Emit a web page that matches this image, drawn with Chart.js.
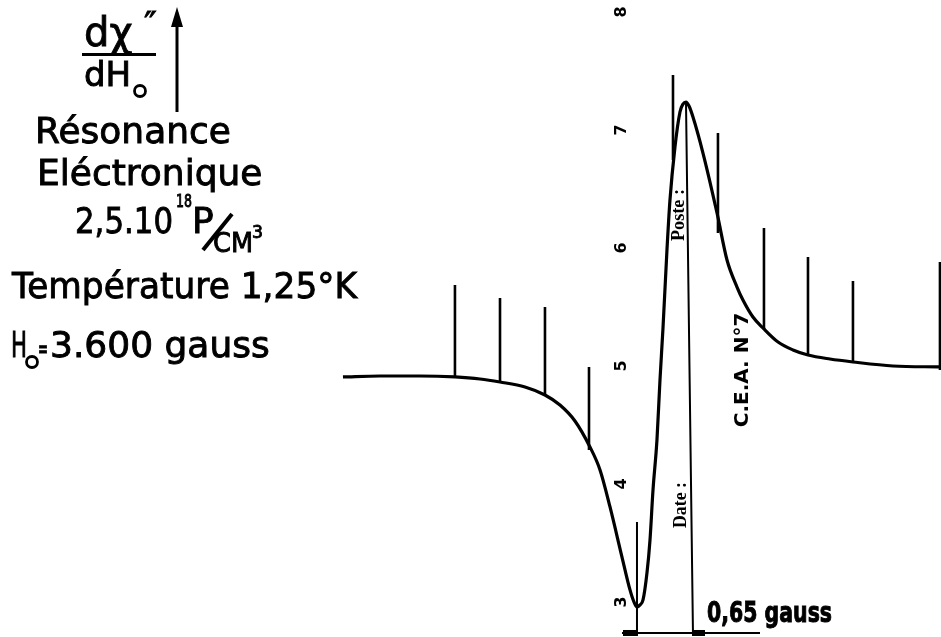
<!DOCTYPE html>
<html>
<head>
<meta charset="utf-8">
<script src="https://cdn.jsdelivr.net/npm/chart.js@4/dist/chart.umd.min.js"></script>
<style>
  html, body { margin: 0; padding: 0; background: #fff; }
  #wrap { width: 941px; height: 637px; }
</style>
</head>
<body>
<div id="wrap"><canvas id="c" width="941" height="637"></canvas></div>
<script>
// Field offset (gauss) from the minimum of the derivative trace
const fieldG = [-3.413, -2.983, -2.519, -2.113, -1.822, -1.590, -1.300, -1.068, -0.894, -0.720,
  -0.546, -0.429, -0.313, -0.174, -0.081, -0.035, 0.000, 0.035, 0.070, 0.116,
  0.151, 0.186, 0.232, 0.267, 0.302, 0.348, 0.383, 0.441, 0.499, 0.534,
  0.569, 0.604, 0.650, 0.766, 0.929, 1.045, 1.161, 1.230, 1.346,
  1.463, 1.637, 1.811, 1.985, 2.240, 2.507, 2.972, 3.517];
// Recorder reading dχ''/dH0 (chart divisions)
const signal = [4.907, 4.915, 4.915, 4.907, 4.890, 4.864, 4.822, 4.754, 4.669, 4.534,
  4.314, 4.119, 3.805, 3.381, 3.102, 3.000, 2.958, 2.975, 3.017, 3.246,
  3.525, 3.949, 4.373, 4.881, 5.322, 5.983, 6.407, 6.856, 7.153, 7.220,
  7.237, 7.203, 7.110, 6.805, 6.297, 5.898, 5.669, 5.559, 5.415,
  5.322, 5.203, 5.136, 5.093, 5.059, 5.034, 5.000, 4.992];

// Field marker pips
const markerG = [-2.113, -1.590, -1.068, -0.557, 0.418, 0.940, 1.474, 1.985, 2.507, 3.517];
const markerTop = [5.686, 5.576, 5.500, 4.992, 7.466, 6.975, 6.169, 5.924, 5.720, 5.881];
const markerBase = [4.907, 4.864, 4.754, 4.288, 6.746, 6.127, 5.305, 5.093, 5.034, 4.966];

// Peak-to-peak width lines and scale bar
const widthGauss = 0.65;
const minLineTop = 3.678;
const peakLineTop = { g: 0.569, v: 7.229 };
const barLevel = 2.737;
const barSpan = [-0.174, 1.428];

// Recorder paper graduations
const yTicks = [3, 4, 5, 6, 7, 8];

const gapped = [];
markerG.forEach((g, i) => {
  gapped.push({ x: g, y: markerBase[i] }, { x: g, y: markerTop[i] }, { x: g, y: null });
});

const annotations = {
  id: 'annotations',
  afterDraw(chart) {
    const ctx = chart.ctx;
    const xs = chart.scales.x, ys = chart.scales.y;
    ctx.save();
    ctx.fillStyle = '#000';
    ctx.strokeStyle = '#000';

    // width bar end blocks
    const b0 = xs.getPixelForValue(0), b1 = xs.getPixelForValue(widthGauss);
    const by = ys.getPixelForValue(barLevel);
    ctx.fillRect(b0 - 14, by - 3, 15, 6);
    ctx.fillRect(b1 - 1, by - 3, 13, 6);

    // rotated graduation labels
    ctx.font = 'bold 16px "DejaVu Sans"';
    ctx.textAlign = 'center';
    ctx.textBaseline = 'middle';
    yTicks.forEach(t => {
      ctx.save();
      ctx.translate(622, ys.getPixelForValue(t));
      ctx.rotate(-Math.PI / 2);
      ctx.fillText(String(t), 0, 0);
      ctx.restore();
    });

    // rotated paper captions
    function vtext(txt, cx, cy, font, w) {
      ctx.save();
      ctx.translate(cx, cy);
      ctx.rotate(-Math.PI / 2);
      ctx.font = font;
      ctx.textAlign = 'center';
      ctx.textBaseline = 'middle';
      ctx.fillText(txt, 0, 0, w);
      ctx.restore();
    }
    vtext('Poste :', 679, 215, 'bold 19px "Liberation Serif"', 52);
    vtext('Date :', 681, 505, 'bold 19px "Liberation Serif"', 46);
    vtext('C.E.A. N°7', 743, 370, 'bold 20px "DejaVu Sans"', 120);

    // scale bar caption
    ctx.textAlign = 'left';
    ctx.textBaseline = 'alphabetic';
    ctx.font = 'bold 28px "DejaVu Sans"';
    ctx.lineWidth = 1;
    ctx.fillText('0,65 gauss', 707, 622, 125);
    ctx.strokeText('0,65 gauss', 707, 622, 125);

    // left caption block
    const F = '"DejaVu Sans"';
    ctx.lineWidth = 0.9;
    function t(txt, x, y, size, w) {
      ctx.font = size + 'px ' + F;
      ctx.fillText(txt, x, y, w);
      ctx.strokeText(txt, x, y, w);
    }
    t('dχ', 84, 46, 40, 66);
    t('″', 144, 36, 34, 16);
    ctx.fillRect(82, 53, 74, 3);
    t('dH', 84, 86, 34, 50);
    ctx.lineWidth = 2.8;
    ctx.beginPath(); ctx.arc(140, 91, 5.5, 0, Math.PI * 2); ctx.stroke();

    // arrow
    ctx.lineWidth = 3;
    ctx.beginPath(); ctx.moveTo(177, 112); ctx.lineTo(177, 22); ctx.stroke();
    ctx.beginPath(); ctx.moveTo(177, 7); ctx.lineTo(171, 27); ctx.lineTo(183, 27); ctx.closePath(); ctx.fill();

    ctx.lineWidth = 0.9;
    t('Résonance', 35, 143, 36, 198);
    t('Eléctronique', 37, 185, 36, 226);
    t('2,5.10', 75, 233, 36, 98);
    t('18', 176, 207, 17, 16);
    t('P', 192, 233, 36, 25);
    ctx.lineWidth = 4;
    ctx.beginPath(); ctx.moveTo(203, 250); ctx.lineTo(232, 214); ctx.stroke();
    ctx.lineWidth = 0.9;
    t('CM', 213, 252, 26, 40);
    t('3', 252, 238, 18, 11);
    t('Température 1,25°K', 12, 298, 36, 345);
    t('H', 11, 357, 36, 16);
    t('=', 38, 358, 26, 10);
    t('3.600 gauss', 50, 357, 36, 240);
    ctx.lineWidth = 2.8;
    ctx.beginPath(); ctx.arc(32, 362, 5.5, 0, Math.PI * 2); ctx.stroke();
    ctx.restore();
  }
};

new Chart(document.getElementById('c'), {
  type: 'line',
  data: {
    datasets: [
      {
        data: fieldG.map((g, i) => ({ x: g, y: signal[i] })),
        borderColor: '#000', borderWidth: 3.2, pointRadius: 0,
        cubicInterpolationMode: 'monotone', fill: false
      },
      {
        data: gapped,
        borderColor: '#000', borderWidth: 2.6, pointRadius: 0, tension: 0, spanGaps: false
      },
      {
        data: [{ x: 0, y: minLineTop }, { x: 0, y: barLevel }, { x: 0, y: null },
               { x: peakLineTop.g, y: peakLineTop.v }, { x: widthGauss, y: barLevel }],
        borderColor: '#000', borderWidth: 2, pointRadius: 0, tension: 0, spanGaps: false
      },
      {
        data: [{ x: barSpan[0], y: barLevel }, { x: barSpan[1], y: barLevel }],
        borderColor: '#000', borderWidth: 2, pointRadius: 0, tension: 0
      }
    ]
  },
  options: {
    responsive: false,
    animation: false,
    devicePixelRatio: 1,
    layout: { padding: 0 },
    plugins: { legend: { display: false }, tooltip: { enabled: false } },
    scales: {
      x: { type: 'linear', display: false, min: -7.394, max: 3.529 },
      y: { type: 'linear', display: false, min: 2.703, max: 8.102 }
    }
  },
  plugins: [annotations]
});
</script>
</body>
</html>
